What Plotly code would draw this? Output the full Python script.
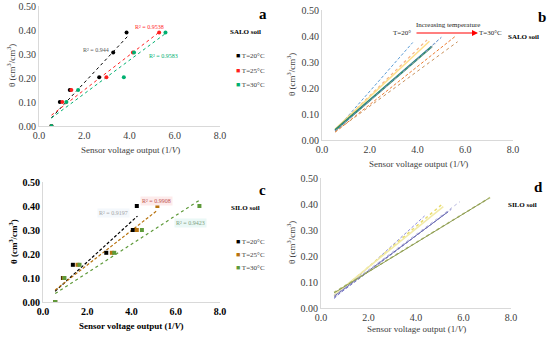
import plotly.graph_objects as go

# ---------------- data ----------------
y_levels = [0.00, 0.10, 0.15, 0.203, 0.306, 0.39]
a_x20 = [0.55, 0.92, 1.36, 2.66, 3.28, 3.87]
a_x25 = [0.55, 1.03, 1.43, 2.98, 4.15, 5.31]
a_x30 = [0.55, 1.21, 1.73, 3.75, 4.20, 5.59]
a_fit_x = {"20": [0.55, 3.90], "25": [0.55, 5.30], "30": [0.55, 5.60]}
a_fit_y = {"20": [0.034, 0.372], "25": [0.045, 0.390], "30": [0.033, 0.386]}
a_r2 = {"20": "R² = 0.944", "25": "R² = 0.9538", "30": "R² = 0.9583"}

c_y = [0.00, 0.10, 0.155, 0.205, 0.30, 0.40]
c_x20 = [0.55, 0.90, 1.35, 2.86, 4.06, 4.24]
c_x25 = [0.55, 0.93, 1.56, 3.11, 4.24, 5.17]
c_x30 = [0.55, 0.97, 1.65, 3.22, 4.47, 7.07]
c_fit_x = {"20": [0.55, 4.27], "25": [0.55, 5.17], "30": [0.55, 7.07]}
c_fit_y = {"20": [0.045, 0.358], "25": [0.050, 0.382], "30": [0.035, 0.424]}
c_r2 = {"20": "R² = 0.9197", "25": "R² = 0.9908", "30": "R² = 0.9423"}

# panel b: fitted lines (start/end)
b_x0 = [0.55, 0.55, 0.55, 0.55, 0.55, 0.55, 0.55, 0.55]
b_y0 = [0.036, 0.040, 0.042, 0.038, 0.035, 0.034, 0.030, 0.032]
b_x1 = [3.80, 4.40, 4.50, 4.60, 4.75, 5.00, 5.60, 5.68]
b_y1 = [0.375, 0.385, 0.380, 0.360, 0.370, 0.395, 0.400, 0.378]
b_col = ["#5B9BD5", "#F4B183", "#FFE08A", "#2E8B6A", "#A5A5A5", "#4F81C7", "#ED7D31", "#C9905A"]
b_dash = ["3px,2px", "dot", "solid", "solid", "dot", "3px,2px", "3px,2px", "dot"]
b_w = [1, 1.2, 1.5, 2, 1, 1, 1, 1]

# panel d: fitted lines (start/end)
d_x0 = [0.55, 0.55, 0.55, 0.55, 0.55, 0.55, 0.55, 0.55]
d_y0 = [0.036, 0.045, 0.050, 0.040, 0.045, 0.048, 0.060, 0.058]
d_x1 = [4.36, 5.06, 5.15, 5.49, 5.35, 5.85, 7.12, 7.05]
d_y1 = [0.354, 0.396, 0.390, 0.380, 0.370, 0.409, 0.425, 0.421]
d_col = ["#8E8EDB", "#E8DC6E", "#F2EBA8", "#7B7BC8", "#6A6AB0", "#B9B9E0", "#B5C07A", "#8C9A52"]
d_dash = ["3px,2px", "dot", "solid", "3px,2px", "solid", "dot", "dot", "solid"]
d_w = [1, 1.5, 1.5, 1, 1, 1, 1.5, 1]

x_ticks = [0, 2, 4, 6, 8]
y_ticks = [0.0, 0.1, 0.2, 0.3, 0.4, 0.5]

FONT = "Liberation Serif, Times New Roman, DejaVu Serif, serif"
fig = go.Figure()

# ---------------- panel a ----------------
a_cols = {"20": "#000000", "25": "#FF1F1F", "30": "#00B070"}
for key in ("20", "25", "30"):
    fig.add_trace(go.Scatter(x=a_fit_x[key], y=a_fit_y[key], mode="lines",
                             line=dict(color=a_cols[key], width=1, dash="dot"),
                             xaxis="x", yaxis="y", showlegend=False))
for key, xs in (("20", a_x20), ("25", a_x25), ("30", a_x30)):
    fig.add_trace(go.Scatter(x=xs, y=y_levels, mode="markers",
                             marker=dict(color=a_cols[key], size=4, symbol="circle"),
                             xaxis="x", yaxis="y", showlegend=False))

# ---------------- panel b ----------------
for i in range(len(b_x0)):
    fig.add_trace(go.Scatter(x=[b_x0[i], b_x1[i]], y=[b_y0[i], b_y1[i]], mode="lines",
                             line=dict(color=b_col[i], width=b_w[i], dash=b_dash[i]),
                             xaxis="x2", yaxis="y2", showlegend=False))

# ---------------- panel c ----------------
c_cols = {"20": "#000000", "25": "#B8730F", "30": "#5E9A3A"}
c_dash = {"20": "3px,2px", "25": "3px,2px", "30": "dot"}
for key in ("20", "25", "30"):
    fig.add_trace(go.Scatter(x=c_fit_x[key], y=c_fit_y[key], mode="lines",
                             line=dict(color=c_cols[key], width=1.2, dash=c_dash[key]),
                             xaxis="x3", yaxis="y3", showlegend=False))
for key, xs in (("20", c_x20), ("25", c_x25), ("30", c_x30)):
    fig.add_trace(go.Scatter(x=xs, y=c_y, mode="markers",
                             marker=dict(color=c_cols[key], size=4, symbol="square"),
                             xaxis="x3", yaxis="y3", showlegend=False))

# ---------------- panel d ----------------
for i in range(len(d_x0)):
    fig.add_trace(go.Scatter(x=[d_x0[i], d_x1[i]], y=[d_y0[i], d_y1[i]], mode="lines",
                             line=dict(color=d_col[i], width=d_w[i], dash=d_dash[i]),
                             xaxis="x4", yaxis="y4", showlegend=False))

# ---------------- axes ----------------
def xax(domain, anchor, bold=False):
    return dict(domain=domain, anchor=anchor, range=[0, 8], tickvals=x_ticks,
                ticktext=[(f"<b>{v:.1f}</b>" if bold else f"{v:.1f}") for v in x_ticks],
                showgrid=False, zeroline=False, showline=True, linecolor="#D9D9D9",
                ticks="", automargin=False,
                tickfont=dict(family=FONT, size=10, color="#000000" if bold else "#404040"),
                fixedrange=True)

def yax(domain, anchor, bold=False):
    return dict(domain=domain, anchor=anchor, range=[0, 0.5], tickvals=y_ticks,
                ticktext=[(f"<b>{v:.2f}</b>" if bold else f"{v:.2f}") for v in y_ticks],
                showgrid=False, zeroline=False, showline=True, linecolor="#D9D9D9",
                ticks="", automargin=False,
                tickfont=dict(family=FONT, size=10, color="#000000" if bold else "#404040"),
                fixedrange=True)

W, H = 550.0, 339.0
xa = xax([39 / W, 220 / W], "y")
ya = yax([1 - 126 / H, 1 - 6 / H], "x")
xb = xax([322 / W, 513 / W], "y2")
yb = yax([1 - 140 / H, 1 - 10 / H], "x2")
xc = xax([43 / W, 220 / W], "y3", bold=True)
yc = yax([1 - 302 / H, 1 - 182 / H], "x3", bold=True)
xd = xax([321 / W, 511 / W], "y4")
yd = yax([1 - 308 / H, 1 - 178 / H], "x4")

annotations = []

def txt(x, y, text, size=8, color="#000000", bold=False, xanchor="center", yanchor="middle",
        angle=0):
    annotations.append(dict(x=x / W, y=1 - y / H, xref="paper", yref="paper",
                            text=(f"<b>{text}</b>" if bold else text),
                            showarrow=False, xanchor=xanchor, yanchor=yanchor, textangle=angle,
                            font=dict(family=FONT, size=size, color=color)))

# axis titles
ytitle = "θ (cm<sup>3</sup>/cm<sup>3</sup>)"
xtitle = "Sensor voltage output (1/<i>V</i>)"
txt(11, 66, ytitle, size=9, color="#404040", angle=-90)
txt(130, 150, xtitle, size=9, color="#404040")
txt(291, 75, ytitle, size=9, color="#404040", angle=-90)
txt(418, 164, xtitle, size=9, color="#404040")
txt(13, 242, ytitle, size=9, bold=True, angle=-90)
txt(131, 326, xtitle, size=9, bold=True)
txt(291, 243, ytitle, size=9, color="#404040", angle=-90)
txt(416, 329, xtitle, size=9, color="#404040")

# panel letters and soil labels
txt(263, 14, "a", size=15, bold=True)
txt(542, 17, "b", size=15, bold=True)
txt(262, 190, "c", size=15, bold=True)
txt(538, 187, "d", size=15, bold=True)
txt(245, 32, "SALO soil", size=7, bold=True)
txt(523, 37, "SALO soil", size=7, bold=True)
txt(245, 208, "SILO soil", size=7, bold=True)
txt(522, 205, "SILO soil", size=7, bold=True)

# legends (a, c)
for i, key in enumerate(("20", "25", "30")):
    label = f"T={key}°C"
    txt(234, 56 + 14.5 * i, f"<span style='color:{a_cols[key]}'>■</span> {label}", size=7,
        color="#404040", xanchor="left")
    txt(234, 242 + 13 * i, f"<span style='color:{c_cols[key]}'>■</span> {label}", size=7,
        color="#404040", xanchor="left")

# R2 labels (data coordinates)
def r2(ax, x, y, text, color, bg=None):
    d = dict(x=x, y=y, xref=ax[0], yref=ax[1], text=text, showarrow=False,
             font=dict(family=FONT, size=6, color=color), xanchor="center", yanchor="middle")
    if bg:
        d["bgcolor"] = bg
    annotations.append(d)

r2(("x", "y"), 2.54, 0.317, a_r2["20"], "#595959")
r2(("x", "y"), 4.87, 0.414, a_r2["25"], "#FF1F1F")
r2(("x", "y"), 5.52, 0.292, a_r2["30"], "#00B070")
r2(("x3", "y3"), 3.19, 0.371, c_r2["20"], "#A6A6A6", "#F4F8FC")
r2(("x3", "y3"), 5.15, 0.42, c_r2["25"], "#C0504D", "#FDEBEB")
r2(("x3", "y3"), 6.65, 0.33, c_r2["30"], "#7F9F7F", "#EAF8F6")

# panel b arrow annotation
txt(402, 33, "T=20°", size=7, color="#262626")
txt(490, 33, "T=30°C", size=7, color="#262626")
txt(448, 25, "Increasing temperature", size=7, color="#262626")
annotations.append(dict(x=478 / W, y=1 - 33 / H, xref="paper", yref="paper",
                        ax=-63, ay=0, axref="pixel", ayref="pixel",
                        showarrow=True, arrowhead=2, arrowsize=1, arrowwidth=1.2,
                        arrowcolor="#FF0000", text=""))

fig.update_layout(
    width=550, height=339,
    margin=dict(l=0, r=0, t=0, b=0, pad=0, autoexpand=False),
    paper_bgcolor="white", plot_bgcolor="white",
    showlegend=False,
    xaxis=xa, yaxis=ya, xaxis2=xb, yaxis2=yb,
    xaxis3=xc, yaxis3=yc, xaxis4=xd, yaxis4=yd,
    annotations=annotations,
    font=dict(family=FONT),
)

fig.write_html("out.html", config={"displayModeBar": False},
               post_script="document.body.style.margin='0';document.body.style.overflow='hidden';")
